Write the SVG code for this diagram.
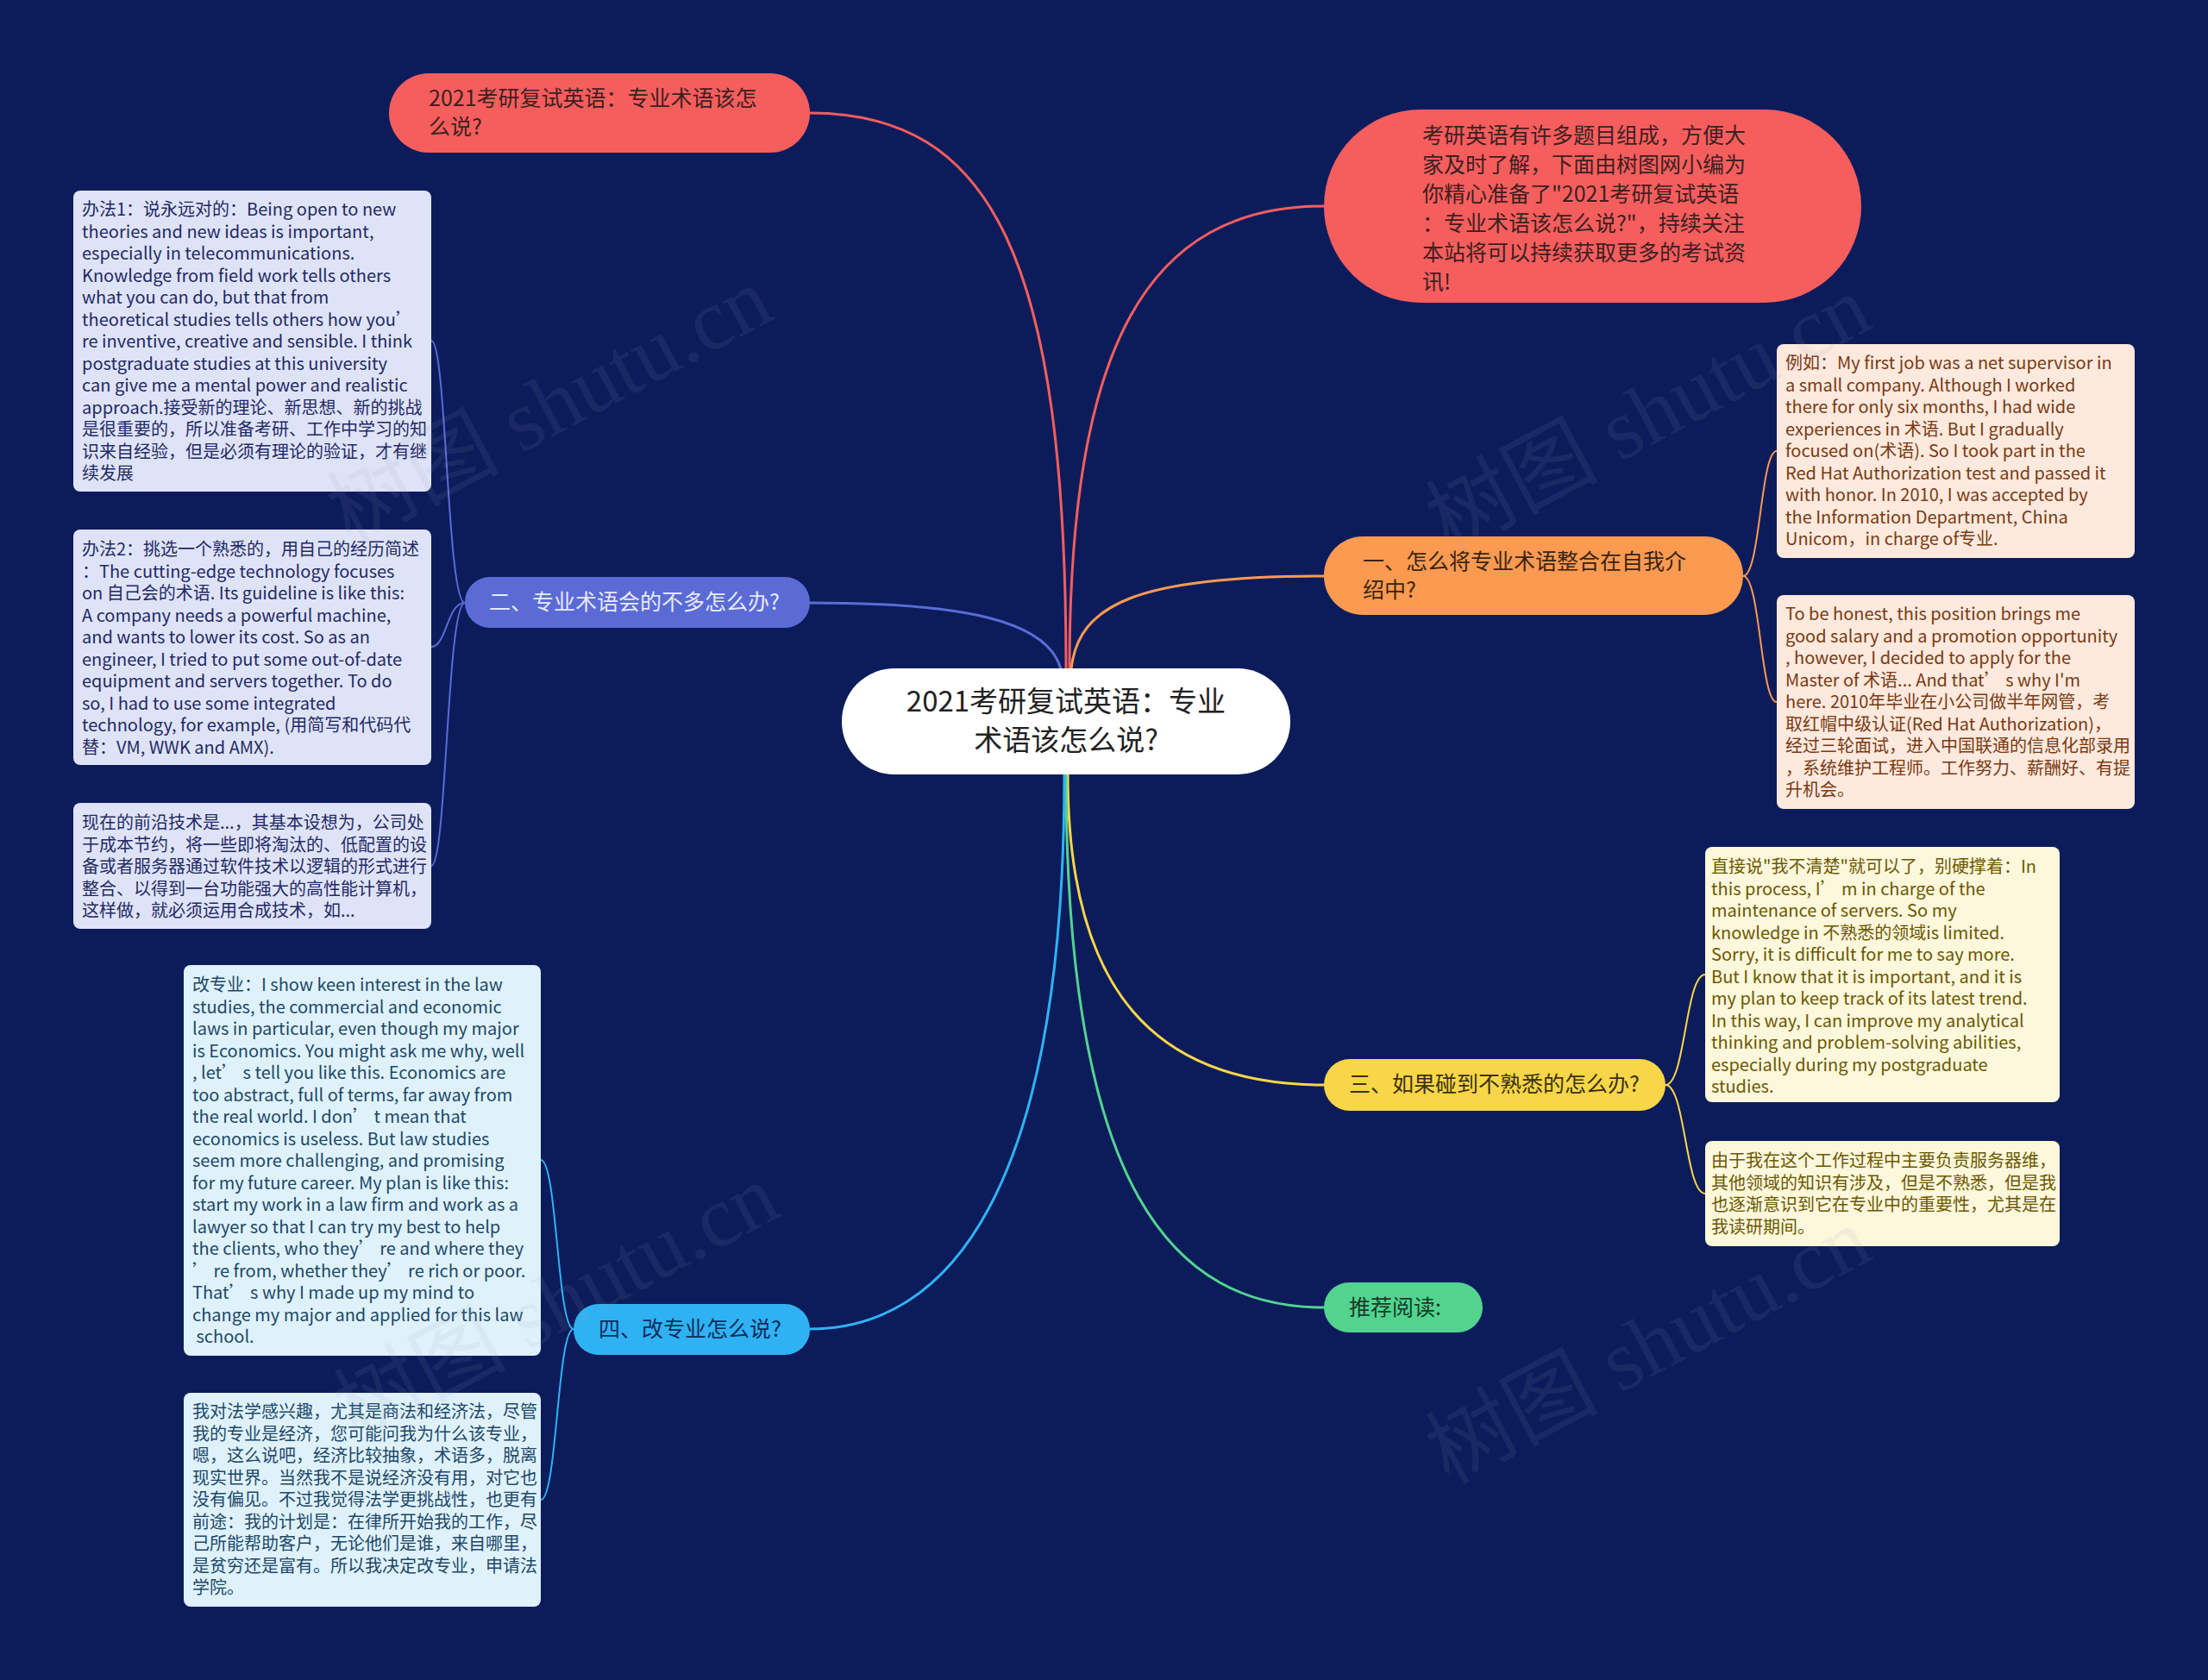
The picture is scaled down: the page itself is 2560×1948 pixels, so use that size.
<svg xmlns="http://www.w3.org/2000/svg" width="2560" height="1948" viewBox="0 0 2560 1948">
<style>
text{font-family:"Noto Sans CJK SC","Noto Sans",sans-serif;}
.c{fill:none;stroke-width:3;stroke-linecap:round}
.s{fill:none;stroke-width:2;stroke-linecap:round}
.n1{font-size:25px}
.b{font-size:20px}
.wm{font-family:"Liberation Serif","Noto Sans CJK SC",serif;font-size:100px;fill:#9aa0b8;opacity:0.1}
</style>
<rect x="0" y="0" width="2560" height="1948" fill="#0c1c5b"/>
<g id="connectors">
<path class="c" stroke="#f65e5e" d="M1236 776 C1236 300 1150 131 939 131"/>
<path class="c" stroke="#f65e5e" d="M1240 776 C1240 400 1330 239 1535 239"/>
<path class="c" stroke="#fd9a52" d="M1242 776 C1250 700 1320 668 1535 668"/>
<path class="c" stroke="#5b6bd6" d="M939 699 C1120 699 1215 720 1230 776"/>
<path class="c" stroke="#f9d648" d="M1238 898 C1238 1150 1340 1258 1535 1258"/>
<path class="c" stroke="#52d48f" d="M1236 898 C1236 1380 1360 1516 1535 1516"/>
<path class="c" stroke="#2fb2f4" d="M1234 898 C1234 1380 1100 1541 939 1541"/>
<path class="s" stroke="#5b6bd6" d="M539 699 C518 699 518 395 500 395"/>
<path class="s" stroke="#5b6bd6" d="M539 699 C518 699 518 750 500 750"/>
<path class="s" stroke="#5b6bd6" d="M539 699 C518 699 518 1004 500 1004"/>
<path class="s" stroke="#fd9a52" d="M2021 668 C2041 668 2041 523 2060 523"/>
<path class="s" stroke="#fd9a52" d="M2021 668 C2041 668 2041 814 2060 814"/>
<path class="s" stroke="#f9d648" d="M1931 1258 C1954 1258 1954 1130 1977 1130"/>
<path class="s" stroke="#f9d648" d="M1931 1258 C1954 1258 1954 1384 1977 1384"/>
<path class="s" stroke="#2fb2f4" d="M665 1541 C646 1541 646 1345 627 1345"/>
<path class="s" stroke="#2fb2f4" d="M665 1541 C646 1541 646 1739 627 1739"/>
</g>
<g id="center">
<rect x="976" y="775" width="520" height="123" rx="61" fill="#ffffff"/>
<text font-size="33" fill="#222" text-anchor="middle"><tspan x="1236" y="825">2021考研复试英语：专业</tspan><tspan x="1236" y="870">术语该怎么说?</tspan></text>
</g>
<g id="node-title">
<rect x="451" y="85" width="488" height="92" rx="46" fill="#f65e5e"/>
<text class="n1" fill="#3d2020"><tspan x="497" y="123">2021考研复试英语：专业术语该怎</tspan><tspan x="497" y="156">么说?</tspan></text>
</g>
<g id="node-intro">
<rect x="1535" y="127" width="623" height="224" rx="112" fill="#f65e5e"/>
<text class="n1" fill="#3d2020"><tspan x="1649" y="166">考研英语有许多题目组成，方便大</tspan><tspan x="1649" y="200">家及时了解，下面由树图网小编为</tspan><tspan x="1649" y="234">你精心准备了"2021考研复试英语</tspan><tspan x="1649" y="268">：专业术语该怎么说?"，持续关注</tspan><tspan x="1649" y="302">本站将可以持续获取更多的考试资</tspan><tspan x="1649" y="336">讯!</tspan></text>
</g>
<g id="node-1">
<rect x="1535" y="622" width="486" height="91" rx="45" fill="#fd9a52"/>
<text class="n1" fill="#3a2410"><tspan x="1580" y="660">一、怎么将专业术语整合在自我介</tspan><tspan x="1580" y="693">绍中?</tspan></text>
</g>
<g id="node-2">
<rect x="539" y="669" width="400" height="59" rx="29" fill="#5b6bd6"/>
<text class="n1" fill="#e6e9ff" x="567" y="707">二、专业术语会的不多怎么办?</text>
</g>
<g id="node-3">
<rect x="1535" y="1228" width="396" height="60" rx="30" fill="#f9d648"/>
<text class="n1" fill="#3a3210" x="1564" y="1266">三、如果碰到不熟悉的怎么办?</text>
</g>
<g id="node-read">
<rect x="1535" y="1487" width="184" height="58" rx="29" fill="#52d48f"/>
<text class="n1" fill="#163a28" x="1564" y="1525">推荐阅读:</text>
</g>
<g id="node-4">
<rect x="665" y="1512" width="274" height="59" rx="29" fill="#2fb2f4"/>
<text class="n1" fill="#0f2c5a" x="694" y="1550">四、改专业怎么说?</text>
</g>
<g id="box-2a">
<rect x="85" y="221" width="415" height="349" rx="8" fill="#dfe3f7"/>
<text class="b" fill="#1f2a66"><tspan x="95" y="250">办法1：说永远对的：Being open to new</tspan><tspan x="95" y="275.5">theories and new ideas is important,</tspan><tspan x="95" y="301">especially in telecommunications.</tspan><tspan x="95" y="326.5">Knowledge from field work tells others</tspan><tspan x="95" y="352">what you can do, but that from</tspan><tspan x="95" y="377.5">theoretical studies tells others how you’</tspan><tspan x="95" y="403">re inventive, creative and sensible. I think</tspan><tspan x="95" y="428.5">postgraduate studies at this university</tspan><tspan x="95" y="454">can give me a mental power and realistic</tspan><tspan x="95" y="479.5">approach.接受新的理论、新思想、新的挑战</tspan><tspan x="95" y="505">是很重要的，所以准备考研、工作中学习的知</tspan><tspan x="95" y="530.5">识来自经验，但是必须有理论的验证，才有继</tspan><tspan x="95" y="556">续发展</tspan></text>
</g>
<g id="box-2b">
<rect x="85" y="614" width="415" height="273" rx="8" fill="#dfe3f7"/>
<text class="b" fill="#1f2a66"><tspan x="95" y="644">办法2：挑选一个熟悉的，用自己的经历简述</tspan><tspan x="95" y="669.5">：The cutting-edge technology focuses</tspan><tspan x="95" y="695">on 自己会的术语. Its guideline is like this:</tspan><tspan x="95" y="720.5">A company needs a powerful machine,</tspan><tspan x="95" y="746">and wants to lower its cost. So as an</tspan><tspan x="95" y="771.5">engineer, I tried to put some out-of-date</tspan><tspan x="95" y="797">equipment and servers together. To do</tspan><tspan x="95" y="822.5">so, I had to use some integrated</tspan><tspan x="95" y="848">technology, for example, (用简写和代码代</tspan><tspan x="95" y="873.5">替：VM, WWK and AMX).</tspan></text>
</g>
<g id="box-2c">
<rect x="85" y="931" width="415" height="146" rx="8" fill="#dfe3f7"/>
<text class="b" fill="#1f2a66"><tspan x="95" y="961">现在的前沿技术是...，其基本设想为，公司处</tspan><tspan x="95" y="986.5">于成本节约，将一些即将淘汰的、低配置的设</tspan><tspan x="95" y="1012">备或者服务器通过软件技术以逻辑的形式进行</tspan><tspan x="95" y="1037.5">整合、以得到一台功能强大的高性能计算机，</tspan><tspan x="95" y="1063">这样做，就必须运用合成技术，如...</tspan></text>
</g>
<g id="box-4a">
<rect x="213" y="1119" width="414" height="453" rx="8" fill="#dff2fc"/>
<text class="b" fill="#1d4868"><tspan x="223" y="1149">改专业：I show keen interest in the law</tspan><tspan x="223" y="1174.5">studies, the commercial and economic</tspan><tspan x="223" y="1200">laws in particular, even though my major</tspan><tspan x="223" y="1225.5">is Economics. You might ask me why, well</tspan><tspan x="223" y="1251">, let’ s tell you like this. Economics are</tspan><tspan x="223" y="1276.5">too abstract, full of terms, far away from</tspan><tspan x="223" y="1302">the real world. I don’ t mean that</tspan><tspan x="223" y="1327.5">economics is useless. But law studies</tspan><tspan x="223" y="1353">seem more challenging, and promising</tspan><tspan x="223" y="1378.5">for my future career. My plan is like this:</tspan><tspan x="223" y="1404">start my work in a law firm and work as a</tspan><tspan x="223" y="1429.5">lawyer so that I can try my best to help</tspan><tspan x="223" y="1455">the clients, who they’ re and where they</tspan><tspan x="223" y="1480.5">’ re from, whether they’ re rich or poor.</tspan><tspan x="223" y="1506">That’ s why I made up my mind to</tspan><tspan x="223" y="1531.5">change my major and applied for this law</tspan><tspan x="223" y="1557"> school.</tspan></text>
</g>
<g id="box-4b">
<rect x="213" y="1615" width="414" height="248" rx="8" fill="#dff2fc"/>
<text class="b" fill="#1d4868"><tspan x="223" y="1644">我对法学感兴趣，尤其是商法和经济法，尽管</tspan><tspan x="223" y="1669.5">我的专业是经济，您可能问我为什么该专业，</tspan><tspan x="223" y="1695">嗯，这么说吧，经济比较抽象，术语多，脱离</tspan><tspan x="223" y="1720.5">现实世界。当然我不是说经济没有用，对它也</tspan><tspan x="223" y="1746">没有偏见。不过我觉得法学更挑战性，也更有</tspan><tspan x="223" y="1771.5">前途：我的计划是：在律所开始我的工作，尽</tspan><tspan x="223" y="1797">己所能帮助客户，无论他们是谁，来自哪里，</tspan><tspan x="223" y="1822.5">是贫穷还是富有。所以我决定改专业，申请法</tspan><tspan x="223" y="1848">学院。</tspan></text>
</g>
<g id="box-1a">
<rect x="2060" y="399" width="415" height="248" rx="8" fill="#fde9dd"/>
<text class="b" fill="#7a3a12"><tspan x="2070" y="428">例如：My first job was a net supervisor in</tspan><tspan x="2070" y="453.5">a small company. Although I worked</tspan><tspan x="2070" y="479">there for only six months, I had wide</tspan><tspan x="2070" y="504.5">experiences in 术语. But I gradually</tspan><tspan x="2070" y="530">focused on(术语). So I took part in the</tspan><tspan x="2070" y="555.5">Red Hat Authorization test and passed it</tspan><tspan x="2070" y="581">with honor. In 2010, I was accepted by</tspan><tspan x="2070" y="606.5">the Information Department, China</tspan><tspan x="2070" y="632">Unicom，in charge of专业.</tspan></text>
</g>
<g id="box-1b">
<rect x="2060" y="690" width="415" height="248" rx="8" fill="#fde9dd"/>
<text class="b" fill="#7a3a12"><tspan x="2070" y="719">To be honest, this position brings me</tspan><tspan x="2070" y="744.5">good salary and a promotion opportunity</tspan><tspan x="2070" y="770">, however, I decided to apply for the</tspan><tspan x="2070" y="795.5">Master of 术语... And that’ s why I'm</tspan><tspan x="2070" y="821">here. 2010年毕业在小公司做半年网管，考</tspan><tspan x="2070" y="846.5">取红帽中级认证(Red Hat Authorization)，</tspan><tspan x="2070" y="872">经过三轮面试，进入中国联通的信息化部录用</tspan><tspan x="2070" y="897.5">，系统维护工程师。工作努力、薪酬好、有提</tspan><tspan x="2070" y="923">升机会。</tspan></text>
</g>
<g id="box-3a">
<rect x="1977" y="982" width="411" height="296" rx="8" fill="#fdf7dc"/>
<text class="b" fill="#6b5800"><tspan x="1984" y="1012">直接说"我不清楚"就可以了，别硬撑着：In</tspan><tspan x="1984" y="1037.5">this process, I’ m in charge of the</tspan><tspan x="1984" y="1063">maintenance of servers. So my</tspan><tspan x="1984" y="1088.5">knowledge in 不熟悉的领域is limited.</tspan><tspan x="1984" y="1114">Sorry, it is difficult for me to say more.</tspan><tspan x="1984" y="1139.5">But I know that it is important, and it is</tspan><tspan x="1984" y="1165">my plan to keep track of its latest trend.</tspan><tspan x="1984" y="1190.5">In this way, I can improve my analytical</tspan><tspan x="1984" y="1216">thinking and problem-solving abilities,</tspan><tspan x="1984" y="1241.5">especially during my postgraduate</tspan><tspan x="1984" y="1267">studies.</tspan></text>
</g>
<g id="box-3b">
<rect x="1977" y="1323" width="411" height="122" rx="8" fill="#fdf7dc"/>
<text class="b" fill="#6b5800"><tspan x="1984" y="1353">由于我在这个工作过程中主要负责服务器维，</tspan><tspan x="1984" y="1378.5">其他领域的知识有涉及，但是不熟悉，但是我</tspan><tspan x="1984" y="1404">也逐渐意识到它在专业中的重要性，尤其是在</tspan><tspan x="1984" y="1429.5">我读研期间。</tspan></text>
</g>
<g id="watermarks">
<text class="wm" transform="translate(653 500) rotate(-28)" text-anchor="middle">树图 shutu.cn</text>
<text class="wm" transform="translate(1927 510) rotate(-28)" text-anchor="middle">树图 shutu.cn</text>
<text class="wm" transform="translate(661 1540) rotate(-28)" text-anchor="middle">树图 shutu.cn</text>
<text class="wm" transform="translate(1927 1590) rotate(-28)" text-anchor="middle">树图 shutu.cn</text>
</g>
</svg>
